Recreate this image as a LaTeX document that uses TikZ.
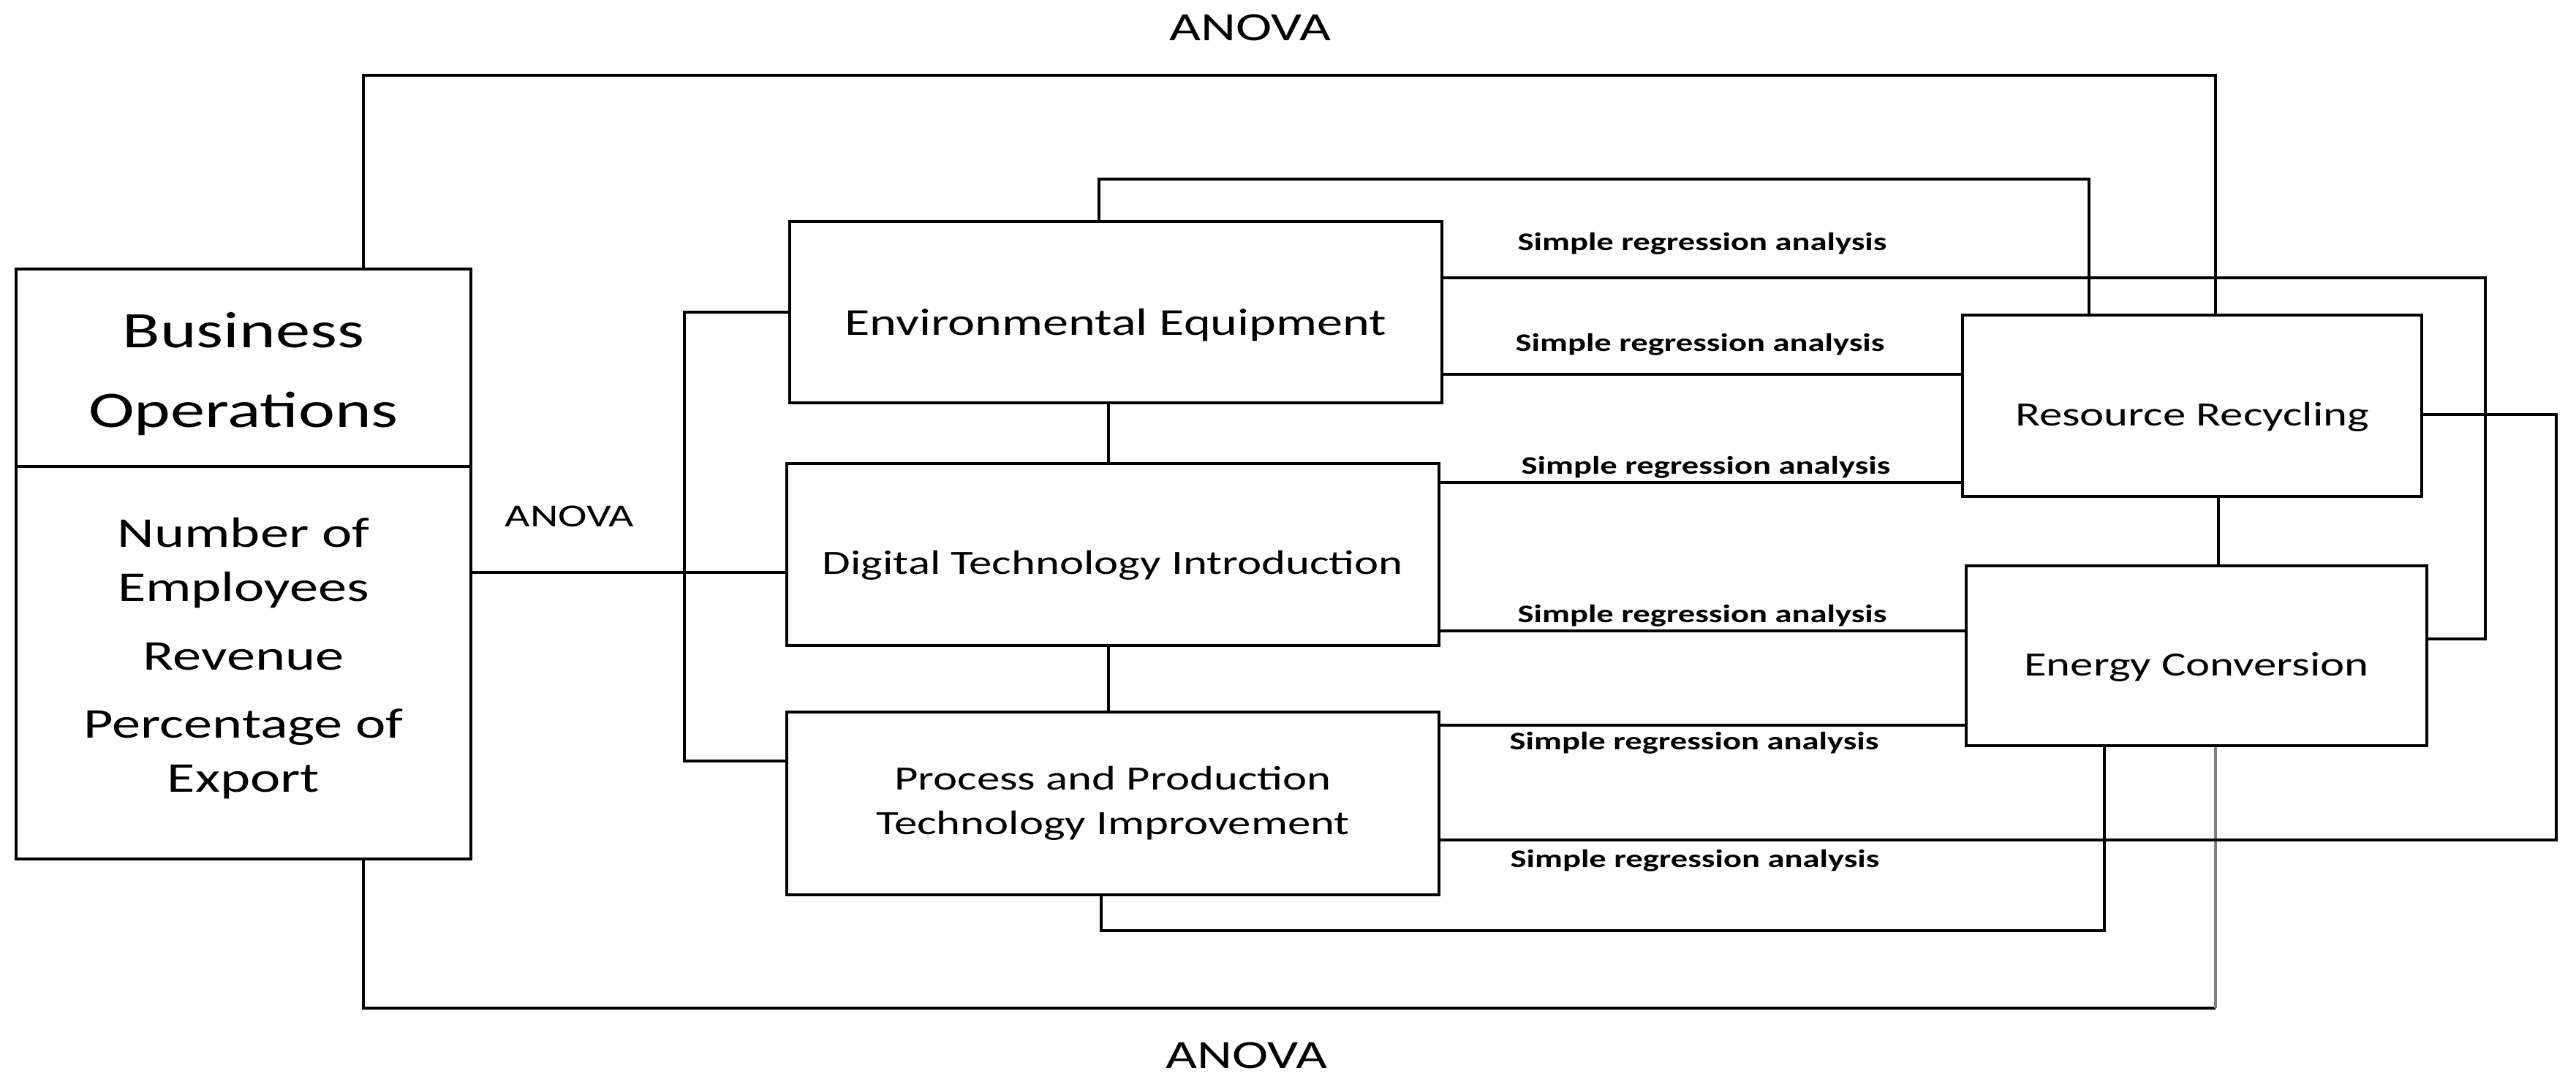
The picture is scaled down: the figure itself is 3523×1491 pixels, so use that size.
\documentclass[tikz,border=0pt]{standalone}
\usepackage{fontspec}
\newfontfamily\boxfont[FakeStretch=1.35]{Carlito}
\usetikzlibrary{positioning}

\begin{document}
\begin{tikzpicture}[x=1pt,y=-1pt,line width=4pt]
\tikzstyle{varbox}=[draw,rectangle,inner sep=0pt,align=center,font=\boxfont\fontsize{46.5}{61}\selectfont]
\tikzstyle{oneline}=[text height=66pt,text depth=12pt]
\tikzstyle{method}=[inner sep=0pt,font=\boxfont\bfseries\fontsize{34.5}{40}\selectfont]
\tikzstyle{anova}=[inner sep=0pt,font=\boxfont\fontsize{55}{60}\selectfont]
\useasboundingbox (0,0) rectangle (3523,1491);
% boxes
\node[varbox,minimum width=622,minimum height=807] (bo) at (333,771.5) {};
\node[inner sep=0pt,align=center,font=\boxfont\fontsize{70}{109}\selectfont] (bt) at (333,512) {Business\\Operations};
\node[inner sep=0pt,align=center,font=\boxfont\fontsize{58}{74}\selectfont] (bl) at (333,901) {Number of\\Employees\\[20pt]Revenue\\[19pt]Percentage of\\Export};
\node[varbox,minimum width=892,minimum height=248,font=\boxfont\fontsize{52}{60}\selectfont,text height=76pt,text depth=13pt] (ee) at (1526,427) {Environmental Equipment};
\node[varbox,oneline,minimum width=892,minimum height=249] (dt) at (1522,758.5) {Digital Technology Introduction};
\node[varbox,minimum width=892,minimum height=250] (pp) at (1522,1099) {Process and Production\\Technology Improvement};
\node[varbox,oneline,minimum width=628,minimum height=248] (rr) at (2998,555) {Resource Recycling};
\node[varbox,oneline,minimum width=630,minimum height=246] (ec) at (3004,897) {Energy Conversion};
% labels
\node[anova] (a1) at (1710,38) {ANOVA};
\node[anova] (a2) at (1705,1444) {ANOVA};
\node[anova,font=\boxfont\fontsize{44}{50}\selectfont] (a3) at (779,706) {ANOVA};
\node[method] (m1) at (2328,333) {Simple regression analysis};
\node[method] (m2) at (2325,471) {Simple regression analysis};
\node[method] (m3) at (2333,639) {Simple regression analysis};
\node[method] (m4) at (2328,842) {Simple regression analysis};
\node[method] (m5) at (2317,1016) {Simple regression analysis};
\node[method] (m6) at (2318,1177) {Simple regression analysis};
% rails
\coordinate (tA) at (0,103);
\coordinate (tB) at (0,245);
\coordinate (bA) at (0,1379);
\coordinate (bB) at (0,1273);
\coordinate (rA) at (3399,0);
\coordinate (rB) at (3496,0);
\coordinate (br) at (936,0);
% attach points
\coordinate (boN) at ([xshift=164pt]bo.north);
\coordinate (boS) at ([xshift=164pt]bo.south);
\coordinate (boE) at ([yshift=-11.5pt]bo.east);
\coordinate (eeN) at ([xshift=-23pt]ee.north);
\coordinate (eeS) at ([xshift=-10pt]ee.south);
\coordinate (eeE1) at ([yshift=47pt]ee.east);
\coordinate (eeE2) at ([yshift=-85pt]ee.east);
\coordinate (dtS) at ([xshift=-6pt]dt.south);
\coordinate (dtE1) at ([yshift=98.5pt]dt.east);
\coordinate (dtE2) at ([yshift=-104.5pt]dt.east);
\coordinate (ppW) at ([yshift=58pt]pp.west);
\coordinate (ppS) at ([xshift=-16pt]pp.south);
\coordinate (ppE1) at ([yshift=107pt]pp.east);
\coordinate (ppE2) at ([yshift=-50pt]pp.east);
\coordinate (rrN1) at ([xshift=32pt]rr.north);
\coordinate (rrN2) at ([xshift=-141pt]rr.north);
\coordinate (rrS) at ([xshift=36pt]rr.south);
\coordinate (rrE) at ([yshift=-12pt]rr.east);
\coordinate (ecS1) at ([xshift=26pt]ec.south);
\coordinate (ecS2) at ([xshift=-126pt]ec.south);
\coordinate (ecE) at ([yshift=23pt]ec.east);
% connectors
\draw (bo.west |- 0,638) -- (bo.east |- 0,638);
\draw (boN) |- (tA -| rrN1) -- (rrN1);
\draw (boS) |- (bA -| ecS1);
\draw[gray] (bA -| ecS1) -- (ecS1);
\draw (boE) -- (boE -| dt.west);
\draw (ee.west) -| (br |- ppW) -- (ppW);
\draw (eeN) |- (tB -| rrN2) -- (rrN2);
\draw (eeS) -- (eeS |- dt.north);
\draw (dtS) -- (dtS |- pp.north);
\draw (rrS) -- (rrS |- ec.north);
\draw (eeE1) -| (rA |- ecE) -- (ecE);
\draw (eeE2) -- (eeE2 -| rr.west);
\draw (dtE1) -- (dtE1 -| rr.west);
\draw (dtE2) -- (dtE2 -| ec.west);
\draw (ppE1) -- (ppE1 -| ec.west);
\draw (ppE2) -| (rB |- rrE) -- (rrE);
\draw (ppS) |- (bB -| ecS2) -- (ecS2);
\end{tikzpicture}
\end{document}
